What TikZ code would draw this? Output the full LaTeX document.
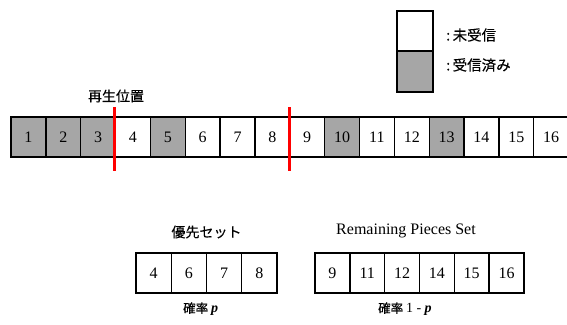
\documentclass[tikz,border=0pt]{standalone}
\usepackage{fontspec}
\setmainfont{Liberation Serif}
\newfontfamily\jp[FakeBold=0.3]{Noto Sans CJK JP}
\usetikzlibrary{calc}
\definecolor{cellgray}{RGB}{166,166,166}
\tikzset{
  cell/.style={draw=black, line width=1.4pt, minimum width=34.85pt, minimum height=40pt, inner sep=0pt, outer sep=0pt, font=\fontsize{16}{16}\selectfont, anchor=west},
  got/.style={cell, fill=cellgray},
  redbar/.style={draw=red, line width=3pt},
  jlabel/.style={font=\jp\fontsize{14}{14}\selectfont, inner sep=0pt},
}
\begin{document}
\begin{tikzpicture}[x=1pt,y=1pt]
\useasboundingbox (0,0) rectangle (567,-324);
\begin{scope}
\clip (0,0) rectangle (567,-324);
% main row
\foreach \i/\s in {1/got,2/got,3/got,4/cell,5/got,6/cell,7/cell,8/cell,9/cell,10/got,11/cell,12/cell,13/got,14/cell,15/cell,16/cell}{
  \node[\s] (c\i) at ({11+34.85*(\i-1)},-137) {\i};
}
\end{scope}
% red markers
\draw[redbar] ($(c3.north east)+(-1,10)$) coordinate (r1a) -- ($(c3.south east)+(-1,-14)$) coordinate (r1b);
\draw[redbar] ($(c8.north east)+(-0.5,10)$) coordinate (r2a) -- ($(c8.south east)+(-0.5,-14)$) coordinate (r2b);
\node[jlabel] (play) at (116,-96) {再生位置};
% legend
\node[cell, minimum width=36pt, minimum height=40pt] (lw) at (397,-31) {};
\node[got, minimum width=36pt, minimum height=41pt] (lg) at (397,-71.5) {};
\node[jlabel, anchor=west, font=\jp\fontsize{14.5}{14.5}\selectfont] (lwt) at (446,-35) {:\,未受信};
\node[jlabel, anchor=west, font=\jp\fontsize{14.5}{14.5}\selectfont] (lgt) at (446,-65) {:\,受信済み};
% priority set
\foreach \n [count=\k] in {4,6,7,8}{
  \node[cell, minimum width=35.25pt] (p\k) at ({136+35.25*(\k-1)},-273) {\n};
}
\node[jlabel] (ptitle) at (206.5,-232) {優先セット};
\node[inner sep=0pt, anchor=west] (pprob) at (183,-309) {\jp\fontsize{12.5}{12.5}\selectfont 確率\ \fontsize{14}{14}\selectfont\rmfamily\bfseries\itshape p};
% remaining set
\foreach \n [count=\k] in {9,11,12,14,15,16}{
  \node[cell, minimum width=34.83pt] (q\k) at ({315+34.83*(\k-1)},-273) {\n};
}
\node[inner sep=0pt, font=\fontsize{16}{16}\selectfont] (qtitle) at (406,-231) {Remaining Pieces Set};
\node[inner sep=0pt, anchor=west] (qprob) at (378,-309) {\jp\fontsize{12.5}{12.5}\selectfont 確率\ \rmfamily\fontsize{14}{14}\selectfont 1 - \bfseries\itshape p};
\end{tikzpicture}
\end{document}
